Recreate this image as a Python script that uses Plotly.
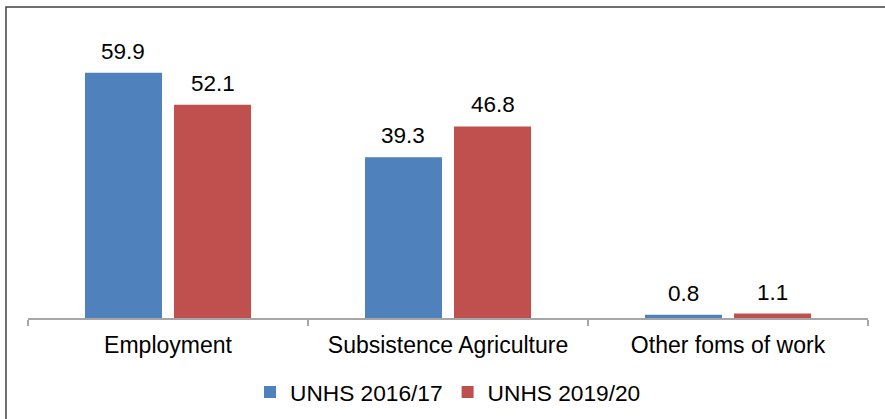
import plotly.graph_objects as go

# Data
categories = ["Employment", "Subsistence Agriculture", "Other foms of work"]
series_names = ["UNHS 2016/17", "UNHS 2019/20"]
values_2016 = [59.9, 39.3, 0.8]
values_2019 = [52.1, 46.8, 1.1]
colors = ["#4F81BD", "#C0504D"]

FONT = "Liberation Sans, Arial, sans-serif"
BARGAP = 0.364
BARGROUPGAP = 0.135

fig = go.Figure()
for name, vals, col in zip(series_names, [values_2016, values_2019], colors):
    fig.add_trace(go.Bar(
        x=categories, y=vals, name=name,
        marker=dict(color=col, line=dict(width=0)),
    ))

# Value labels above each bar
slot = (1 - BARGAP) / 2
annotations = []
for k, vals in enumerate([values_2016, values_2019]):
    offset = (-0.5 + k) * slot
    for i, v in enumerate(vals):
        annotations.append(dict(
            x=i + offset, y=v, xref="x", yref="y",
            text=f"{v:.1f}", showarrow=False,
            yanchor="bottom", yshift=7,
            font=dict(family=FONT, size=22.5, color="#000000"),
        ))

fig.update_layout(
    width=885, height=419,
    margin=dict(l=28, r=17, t=20, b=101, autoexpand=False),
    paper_bgcolor="white", plot_bgcolor="white",
    barmode="group", bargap=BARGAP, bargroupgap=BARGROUPGAP,
    font=dict(family=FONT, size=22, color="#000000"),
    showlegend=True,
    legend=dict(
        orientation="h", x=0.5, xanchor="center",
        yref="container", y=0.064, yanchor="middle",
        font=dict(family=FONT, size=22.7, color="#000000"),
        itemwidth=30, traceorder="normal",
    ),
    annotations=annotations,
    shapes=[dict(
        type="rect", xref="paper", yref="paper",
        x0=-0.0262, x1=1.2, y0=-0.6, y1=1.0436,
        line=dict(color="#404040", width=1.5), fillcolor="rgba(0,0,0,0)",
        layer="below",
    )],
)

fig.update_xaxes(
    type="category", showline=True, linecolor="#A6A6A6", linewidth=1.5,
    ticks="outside", tickson="boundaries", ticklen=6, tickcolor="#A6A6A6",
    tickwidth=1.5, showgrid=False, ticklabelstandoff=6, automargin=False,
    tickfont=dict(family=FONT, size=23, color="#000000"),
)
fig.update_yaxes(
    range=[0, 72.8], visible=False, showgrid=False, zeroline=False,
)

fig.write_html("out.html")
